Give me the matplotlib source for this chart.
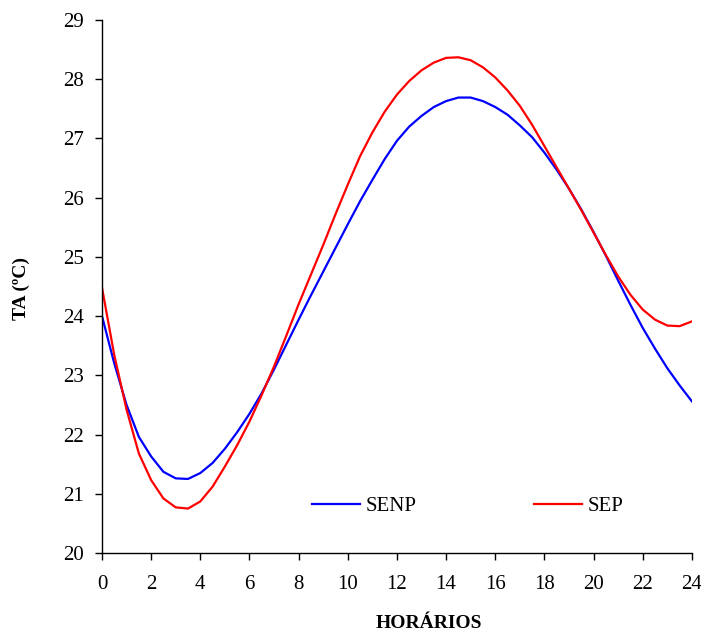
import numpy as np
import matplotlib.pyplot as plt

plt.rcParams['font.family'] = ['Liberation Serif', 'DejaVu Serif']

# readings every half hour
horas = [0, 0.5, 1, 1.5, 2, 2.5, 3, 3.5, 4, 4.5, 5, 5.5, 6, 6.5, 7, 7.5, 8,
         8.5, 9, 9.5, 10, 10.5, 11, 11.5, 12, 12.5, 13, 13.5, 14, 14.5, 15,
         15.5, 16, 16.5, 17, 17.5, 18, 18.5, 19, 19.5, 20, 20.5, 21, 21.5,
         22, 22.5, 23, 23.5, 24]

senp = [24.00, 23.20, 22.50, 21.96, 21.63, 21.37, 21.26, 21.25, 21.35, 21.52,
        21.76, 22.04, 22.35, 22.70, 23.10, 23.52, 23.94, 24.35, 24.75, 25.15,
        25.55, 25.94, 26.30, 26.65, 26.96, 27.20, 27.38, 27.53, 27.63, 27.69,
        27.69, 27.63, 27.53, 27.40, 27.22, 27.02, 26.76, 26.47, 26.15, 25.80,
        25.42, 25.02, 24.60, 24.19, 23.80, 23.45, 23.12, 22.83, 22.56]

sep = [24.48, 23.34, 22.42, 21.68, 21.23, 20.92, 20.77, 20.75, 20.87, 21.12,
       21.46, 21.82, 22.22, 22.67, 23.15, 23.67, 24.20, 24.70, 25.20, 25.72,
       26.22, 26.70, 27.10, 27.45, 27.74, 27.97, 28.15, 28.28, 28.36, 28.37,
       28.32, 28.20, 28.03, 27.81, 27.55, 27.23, 26.87, 26.51, 26.15, 25.79,
       25.41, 25.03, 24.67, 24.36, 24.11, 23.94, 23.84, 23.83, 23.91]

fig = plt.figure(figsize=(7.01, 6.34), dpi=100)
ax = fig.add_axes([0.1455, 0.1278, 0.8415, 0.8407])

ax.plot(horas, senp, color='#0000ff', lw=1.6, label='SENP', solid_joinstyle='round')
ax.plot(horas, sep, color='#ff0000', lw=1.6, label='SEP', solid_joinstyle='round')

ax.set_xlim(0, 24)
ax.set_ylim(20, 29)
ax.set_xticks(range(0, 25, 2))
ax.set_yticks(range(20, 30))

for s in ['top', 'right']:
    ax.spines[s].set_visible(False)
for s in ['left', 'bottom']:
    ax.spines[s].set_linewidth(1.0)

ax.tick_params(axis='both', direction='out', length=5, width=1, labelsize=15)
ax.tick_params(axis='y', pad=8)
ax.tick_params(axis='x', pad=11)

ax.set_xlabel('HORÁRIOS', fontsize=14, fontweight='bold')
ax.xaxis.set_label_coords(0.554, -0.117)
ax.set_ylabel('TA (ºC)', fontsize=14, fontweight='bold')
ax.yaxis.set_label_coords(-0.122, 0.497)

ax.legend(loc='center', bbox_to_anchor=(0.62, 0.088), ncol=2, frameon=False,
          fontsize=15, handlelength=2.3, handletextpad=0.3, columnspacing=5.6)

fig.savefig('out.png', dpi=100)
